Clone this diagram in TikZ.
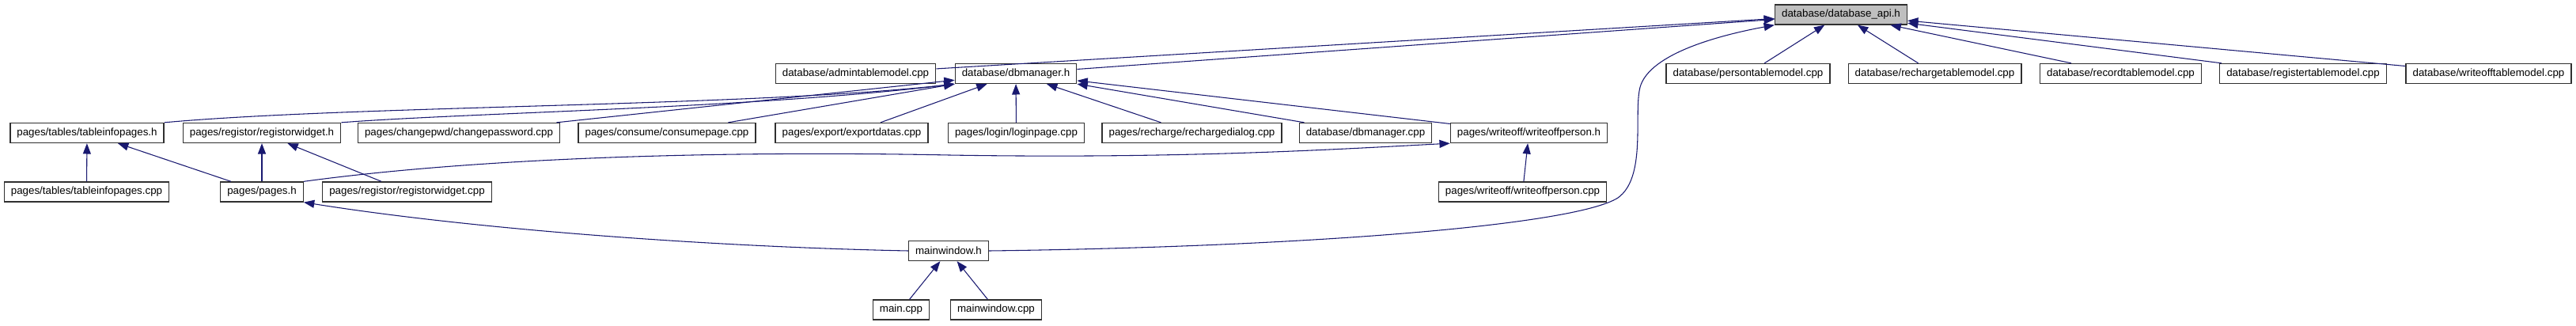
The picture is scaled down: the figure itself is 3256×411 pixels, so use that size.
\documentclass[tikz,border=0pt]{standalone}
\usepackage{fontspec}
\setmainfont{Liberation Sans}
\usepackage{tikz}
\usetikzlibrary{positioning, arrows.meta}
\definecolor{edgeblue}{HTML}{191970}
\definecolor{rootgrey}{HTML}{BFBFBF}
\definecolor{boxline}{HTML}{303030}

\begin{document}
\begin{tikzpicture}[
  x=0.75pt, y=-0.75pt,
  font=\fontsize{10}{12}\selectfont,
  file/.style={draw=boxline, line width=1pt, fill=white, minimum height=18.75pt,
               inner xsep=6.4pt, inner ysep=0pt},
  root/.style={file, fill=rootgrey},
  dep/.style={draw=edgeblue, line width=0.8pt, -{Triangle[length=10pt, width=7.5pt]}}
]
\useasboundingbox (0,0) rectangle (3256,411);

% ---- Row 0: the header itself ----
\node[root] (api) at (2327,18.5) {database/database\_api.h};

% ---- Row 1 ----
\node[file] (admin)      at (1081.5,93) {database/admintablemodel.cpp};
\node[file] (dbmh)       at (1284,93)   {database/dbmanager.h};
\node[file] (person)     at (2209.5,93) {database/persontablemodel.cpp};
\node[file] (rechargetm) at (2445.5,93) {database/rechargetablemodel.cpp};
\node[file] (recordtm)   at (2680.5,93) {database/recordtablemodel.cpp};
\node[file] (registertm) at (2911,93)   {database/registertablemodel.cpp};
\node[file] (writeofftm) at (3145.5,93) {database/writeofftablemodel.cpp};

% ---- Row 2 ----
\node[file] (tabh)    at (110,168)    {pages/tables/tableinfopages.h};
\node[file] (regh)    at (331,168)    {pages/registor/registorwidget.h};
\node[file] (chpwd)   at (580,168)    {pages/changepwd/changepassword.cpp};
\node[file] (consume) at (843,168)    {pages/consume/consumepage.cpp};
\node[file] (export)  at (1076.5,168) {pages/export/exportdatas.cpp};
\node[file] (login)   at (1284.5,168) {pages/login/loginpage.cpp};
\node[file] (rchg)    at (1506.5,168) {pages/recharge/rechargedialog.cpp};
\node[file] (dbmcpp)  at (1726,168)   {database/dbmanager.cpp};
\node[file] (woh)     at (1932.5,168) {pages/writeoff/writeoffperson.h};

% ---- Row 3 ----
\node[file] (tabcpp) at (109.5,242.5)  {pages/tables/tableinfopages.cpp};
\node[file] (pagesh) at (331,242.5)    {pages/pages.h};
\node[file] (regcpp) at (514.5,242.5)  {pages/registor/registorwidget.cpp};
\node[file] (wocpp)  at (1924.5,242.5) {pages/writeoff/writeoffperson.cpp};

% ---- Rows 4 and 5 ----
\node[file] (mainh)   at (1199,317)   {mainwindow.h};
\node[file] (maincpp) at (1139,391.5) {main.cpp};
\node[file] (mwcpp)   at (1259,391.5) {mainwindow.cpp};

% ---- Includes of database_api.h ----
\draw[dep] (admin)      -- (api);
\draw[dep] (dbmh)       -- (api);
\draw[dep] (person)     -- (api);
\draw[dep] (rechargetm) -- (api);
\draw[dep] (recordtm)   -- (api);
\draw[dep] (registertm) -- (api);
\draw[dep] (writeofftm) -- (api);
\draw[dep] (mainh.east) .. controls (1650,312) and (1990,285) .. (2045,250)
  .. controls (2080,225) and (2066,150) .. (2072,115)
  .. controls (2078,70) and (2170,45) .. (api.south west);

% ---- Includes of dbmanager.h ----
\draw[dep] (tabh.north east) .. controls (450,133) and (950,135) .. (dbmh.south west);
\draw[dep] (regh.north east) .. controls (600,142) and (950,137) .. (dbmh.south west);
\draw[dep] (chpwd)   -- (dbmh);
\draw[dep] (consume) -- (dbmh);
\draw[dep] (export)  -- (dbmh);
\draw[dep] (login)   -- (dbmh);
\draw[dep] (rchg)    -- (dbmh);
\draw[dep] (dbmcpp)  -- (dbmh);
\draw[dep] (woh)     -- (dbmh);

% ---- Page headers ----
\draw[dep] (tabcpp) -- (tabh);
\draw[dep] (pagesh) -- (tabh);
\draw[dep] (pagesh) -- (regh);
\draw[dep] (regcpp) -- (regh);
\draw[dep] (wocpp)  -- (woh);
\draw[dep] (pagesh.north east) .. controls (600,200) and (900,190) .. (1200,196)
  .. controls (1500,201) and (1700,188) .. (woh.south west);

% ---- mainwindow ----
\draw[dep] (mainh.west) .. controls (900,312) and (600,290) .. (pagesh.south east);
\draw[dep] (maincpp) -- (mainh);
\draw[dep] (mwcpp)   -- (mainh);

\end{tikzpicture}
\end{document}
